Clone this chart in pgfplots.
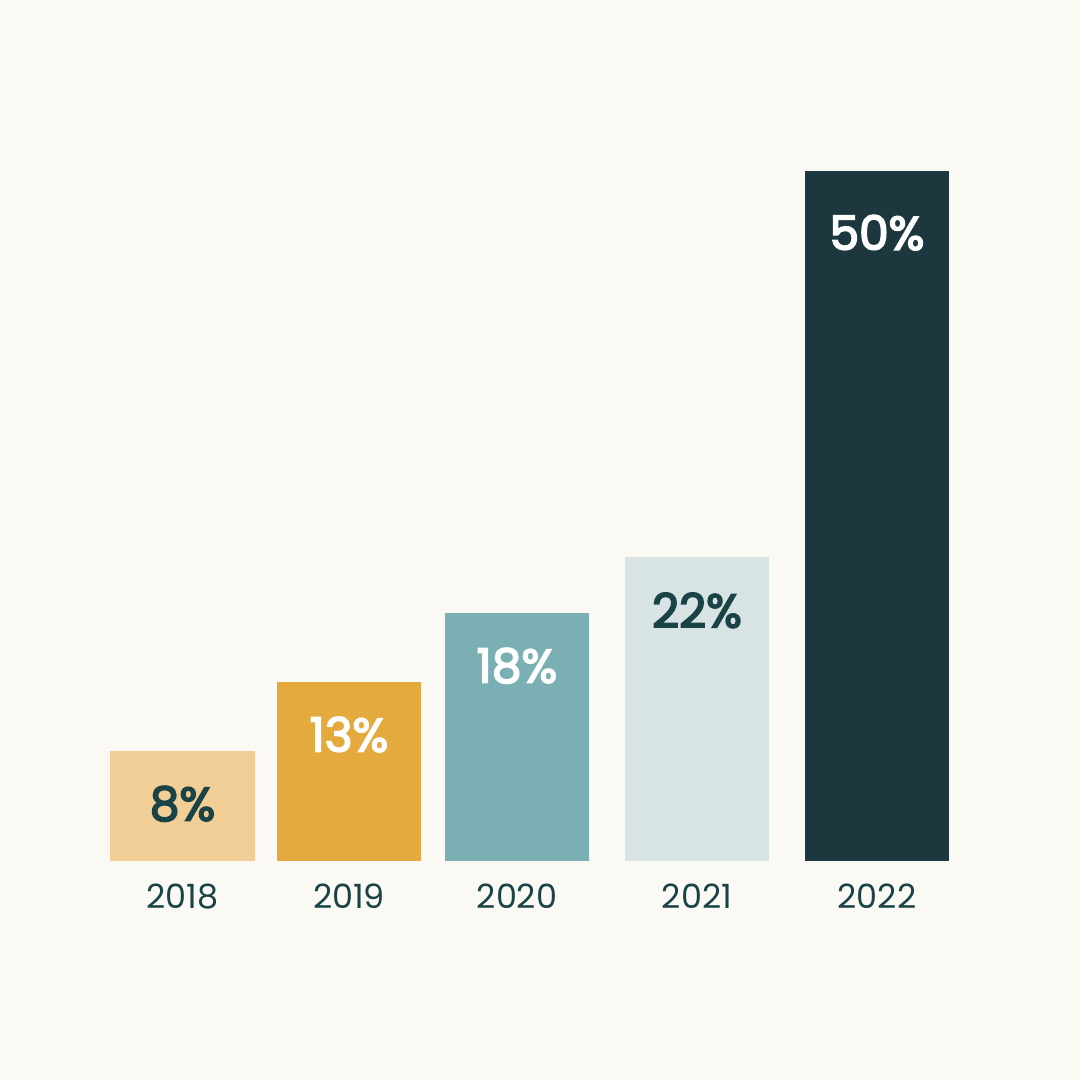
\documentclass[border=0pt]{standalone}
\usepackage{pgfplots}
\pgfplotsset{compat=1.18}
\usepackage{fontspec}
\setmainfont{Poppins}
\newfontfamily\valfont[FakeBold=3.5]{Poppins}
\definecolor{bg}{HTML}{FAF9F4}
\definecolor{cA}{HTML}{F0CE96}
\definecolor{cB}{HTML}{E4AA3E}
\definecolor{cC}{HTML}{7AB0B4}
\definecolor{cD}{HTML}{D7E4E3}
\definecolor{cE}{HTML}{1C373D}
\definecolor{txt}{HTML}{1A4348}
\begin{document}
\begin{tikzpicture}
\begin{axis}[
  width=10cm, height=10cm, scale only axis,
  xmin=0, xmax=1080, ymin=-15.87, ymax=62.39,
  hide axis, clip=false,
  /pgf/number format/assume math mode=true,
  ybar, bar shift=0pt, bar width=144.5,
  nodes near coords={\pgfmathprintnumber{\pgfplotspointmeta}\%},
  every node near coord/.append style={anchor=base, font=\valfont\fontsize{12.4}{14}\selectfont, yshift=-18.44pt},
]
\fill[bg] (rel axis cs:0,0) rectangle (rel axis cs:1,1);
\addplot[fill=cA, draw=none, every node near coord/.append style={text=txt}] coordinates {(182.5,8)};
\addplot[fill=cB, draw=none, every node near coord/.append style={text=white}] coordinates {(349,13)};
\addplot[fill=cC, draw=none, every node near coord/.append style={text=white}] coordinates {(517,18)};
\addplot[fill=cD, draw=none, every node near coord/.append style={text=txt}] coordinates {(697,22)};
\addplot[fill=cE, draw=none, every node near coord/.append style={text=white, yshift=-2.3pt}] coordinates {(877,50)};
\foreach \xx/\yy in {182.5/2018, 349/2019, 517/2020, 697/2021, 877/2022}{
  \edef\tmp{\noexpand\node[anchor=base, text=txt, font=\noexpand\fontsize{8.8}{11}\noexpand\selectfont] at (axis cs:\xx,-3.41) {\yy};}
  \tmp
}
\end{axis}
\end{tikzpicture}
\end{document}
